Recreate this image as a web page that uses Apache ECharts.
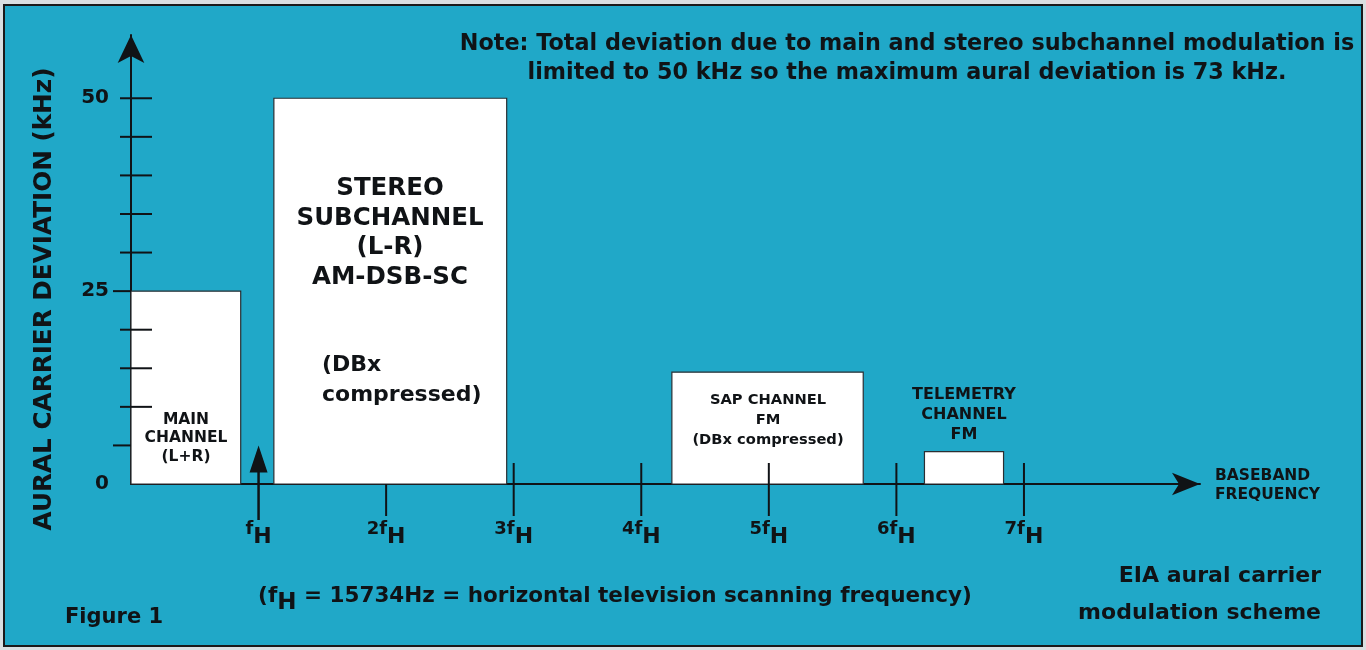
<!DOCTYPE html>
<html>
<head>
<meta charset="utf-8">
<script src="https://cdn.jsdelivr.net/npm/echarts@6/dist/echarts.min.js"></script>
<style>
html,body{margin:0;padding:0;background:#d9dfe1;}
#chart{width:1366px;height:650px;}
</style>
</head>
<body>
<div id="chart"></div>
<script>
// ---- data ----
const channelNames = ['MAIN CHANNEL (L+R)', 'STEREO SUBCHANNEL (L-R)', 'SAP CHANNEL', 'TELEMETRY CHANNEL'];
const channelStart = [0, 1.12, 4.24, 6.22];      // in multiples of fH
const channelEnd = [0.86, 2.945, 5.74, 6.84];    // in multiples of fH
const channelDeviation = [25, 50, 14.5, 4.2];    // kHz
const pilotHarmonic = [1];                        // pilot at fH
const pilotArrowTop = [5];                        // kHz (arrow tip)
const xLabelPrefix = ['', '2', '3', '4', '5', '6', '7'];  // labels for 1..7 fH
const xTicksBelow = [2];
const xTicksCross = [3, 4, 5, 6, 7];
const yLabelValues = [0, 25, 50];
const yTicksCross = [10, 15, 20, 30, 35, 40, 45, 50];
const yTicksLeft = [5, 25];

const INK = '#101316';
const BG = '#20a8c8';
const FONT = 'DejaVu Sans';

const chart = echarts.init(document.getElementById('chart'), null, {renderer: 'canvas'});

const boxData = channelNames.map((n, i) => ({name: n, value: [channelStart[i], channelEnd[i], channelDeviation[i]]}));

const option = {
  backgroundColor: 'transparent',
  animation: false,
  grid: {left: 131, right: 166, top: 35, bottom: 166, containLabel: false},
  xAxis: {
    type: 'value', min: 0, max: 8.38, interval: 1,
    axisLine: {show: true, onZero: false, lineStyle: {color: INK, width: 2}, symbol: ['none', 'arrow'], symbolSize: [17, 28], symbolOffset: [0, 0]},
    axisTick: {show: false},
    splitLine: {show: false},
    axisLabel: {
      margin: 36,
      formatter: function (v) {
        const i = Math.round(v) - 1;
        if (i < 0 || i >= xLabelPrefix.length) return '';
        return '{a|' + xLabelPrefix[i] + 'f}{b|H}';
      },
      rich: {
        a: {fontFamily: FONT, fontWeight: 'bold', fontSize: 18, color: INK, verticalAlign: 'top', lineHeight: 18},
        b: {fontFamily: FONT, fontWeight: 'bold', fontSize: 22, color: INK, verticalAlign: 'top', lineHeight: 22, padding: [6, 0, 0, 0]}
      }
    }
  },
  yAxis: {
    type: 'value', min: 0, max: 58.2, interval: 25,
    axisLine: {show: true, onZero: false, lineStyle: {color: INK, width: 2}, symbol: ['none', 'arrow'], symbolSize: [20, 28]},
    axisTick: {show: false},
    splitLine: {show: false},
    axisLabel: {
      margin: 22,
      fontFamily: FONT, fontWeight: 'bold', fontSize: 20, color: INK,
      formatter: v => (yLabelValues.indexOf(v) >= 0 ? String(v) : '')
    }
  },
  series: [
    {
      type: 'custom', name: 'channels', z: 2, clip: false,
      data: boxData,
      renderItem: function (params, api) {
        const p0 = api.coord([api.value(0), api.value(2)]);
        const p1 = api.coord([api.value(1), 0]);
        return {
          type: 'rect',
          shape: {x: p0[0], y: p0[1], width: p1[0] - p0[0], height: p1[1] - p0[1]},
          style: {fill: '#ffffff', stroke: '#2a2f33', lineWidth: 1.2}
        };
      }
    },
    {
      type: 'custom', name: 'xticks', z: 5, clip: false,
      data: xTicksCross.map(v => [v, 1]).concat(xTicksBelow.map(v => [v, 0])),
      renderItem: function (params, api) {
        const p = api.coord([api.value(0), 0]);
        const up = api.value(1) ? 21 : 0;
        return {type: 'line', shape: {x1: p[0], y1: p[1] - up, x2: p[0], y2: p[1] + 32}, style: {stroke: INK, lineWidth: 2}};
      }
    },
    {
      type: 'custom', name: 'yticks', z: 5, clip: false,
      data: yTicksCross.map(v => [v, 1]).concat(yTicksLeft.map(v => [v, 0])),
      renderItem: function (params, api) {
        const p = api.coord([0, api.value(0)]);
        const cross = api.value(1);
        const x1 = cross ? p[0] - 11 : p[0] - 18;
        const x2 = cross ? p[0] + 21 : p[0];
        return {type: 'line', shape: {x1: x1, y1: p[1], x2: x2, y2: p[1]}, style: {stroke: INK, lineWidth: 2}};
      }
    },
    {
      type: 'custom', name: 'pilot', z: 6, clip: false,
      data: pilotHarmonic.map((h, i) => [h, pilotArrowTop[i]]),
      renderItem: function (params, api) {
        const tip = api.coord([api.value(0), api.value(1)]);
        const base = api.coord([api.value(0), 0]);
        return {
          type: 'group',
          children: [
            {type: 'line', shape: {x1: tip[0], y1: tip[1] + 20, x2: base[0], y2: base[1] + 36}, style: {stroke: INK, lineWidth: 2.5}},
            {type: 'polygon', shape: {points: [[tip[0], tip[1]], [tip[0] - 9, tip[1] + 27], [tip[0] + 9, tip[1] + 27]]}, style: {fill: INK}}
          ]
        };
      }
    }
  ],
  graphic: [
    {type: 'rect', z: -10, silent: true, shape: {x: 4, y: 5, width: 1358, height: 641}, style: {fill: BG, stroke: '#1a1a1a', lineWidth: 2}},
    {type: 'text', z: 10, rotation: Math.PI / 2, x: 45, y: 299,
      style: {text: 'AURAL CARRIER DEVIATION (kHz)', x: 0, y: 0, fontFamily: FONT, fontWeight: 'bold', fontSize: 24.7, fill: INK, textAlign: 'center', textVerticalAlign: 'middle'}},
    {type: 'text', z: 10, x: 907, y: 58.5,
      style: {text: 'Note: Total deviation due to main and stereo subchannel modulation is\nlimited to 50 kHz so the maximum aural deviation is 73 kHz.', fontFamily: FONT, fontWeight: 'bold', fontSize: 22.3, lineHeight: 29, fill: INK, textAlign: 'center', textVerticalAlign: 'middle'}},
    {type: 'text', z: 10, x: 186, y: 438,
      style: {text: 'MAIN\nCHANNEL\n(L+R)', fontFamily: FONT, fontWeight: 'bold', fontSize: 15.5, lineHeight: 18.5, fill: INK, textAlign: 'center', textVerticalAlign: 'middle'}},
    {type: 'text', z: 10, x: 390, y: 233,
      style: {text: 'STEREO\nSUBCHANNEL\n(L-R)\nAM-DSB-SC', fontFamily: FONT, fontWeight: 'bold', fontSize: 24.5, lineHeight: 29.7, fill: INK, textAlign: 'center', textVerticalAlign: 'middle'}},
    {type: 'text', z: 10, x: 322, y: 380,
      style: {text: '(DBx\ncompressed)', fontFamily: FONT, fontWeight: 'bold', fontSize: 22, lineHeight: 30, fill: INK, textAlign: 'left', textVerticalAlign: 'middle'}},
    {type: 'text', z: 10, x: 768, y: 420,
      style: {text: 'SAP CHANNEL\nFM\n(DBx compressed)', fontFamily: FONT, fontWeight: 'bold', fontSize: 14.7, lineHeight: 20, fill: INK, textAlign: 'center', textVerticalAlign: 'middle'}},
    {type: 'text', z: 10, x: 964, y: 415,
      style: {text: 'TELEMETRY\nCHANNEL\nFM', fontFamily: FONT, fontWeight: 'bold', fontSize: 16, lineHeight: 20, fill: INK, textAlign: 'center', textVerticalAlign: 'middle'}},
    {type: 'text', z: 10, x: 1215, y: 485,
      style: {text: 'BASEBAND\nFREQUENCY', fontFamily: FONT, fontWeight: 'bold', fontSize: 15.5, lineHeight: 19, fill: INK, textAlign: 'left', textVerticalAlign: 'middle'}},
    {type: 'text', z: 10, x: 615, y: 597,
      style: {text: '{t|(f}{s|H}{t| = 15734Hz = horizontal television scanning frequency)}', textAlign: 'center', textVerticalAlign: 'middle',
        rich: {
          t: {fontFamily: FONT, fontWeight: 'bold', fontSize: 21.5, fill: INK, color: INK, verticalAlign: 'top', lineHeight: 23},
          s: {fontFamily: FONT, fontWeight: 'bold', fontSize: 23, fill: INK, color: INK, verticalAlign: 'top', lineHeight: 23, padding: [6, 0, 0, 0]}
        }}},
    {type: 'text', z: 10, x: 65, y: 618,
      style: {text: 'Figure 1', fontFamily: FONT, fontWeight: 'bold', fontSize: 21, fill: INK, textAlign: 'left', textVerticalAlign: 'middle'}},
    {type: 'text', z: 10, x: 1321, y: 595,
      style: {text: 'EIA aural carrier\nmodulation scheme', fontFamily: FONT, fontWeight: 'bold', fontSize: 22, lineHeight: 37, fill: INK, textAlign: 'right', textVerticalAlign: 'middle'}}
  ]
};
chart.setOption(option);
</script>
</body>
</html>
